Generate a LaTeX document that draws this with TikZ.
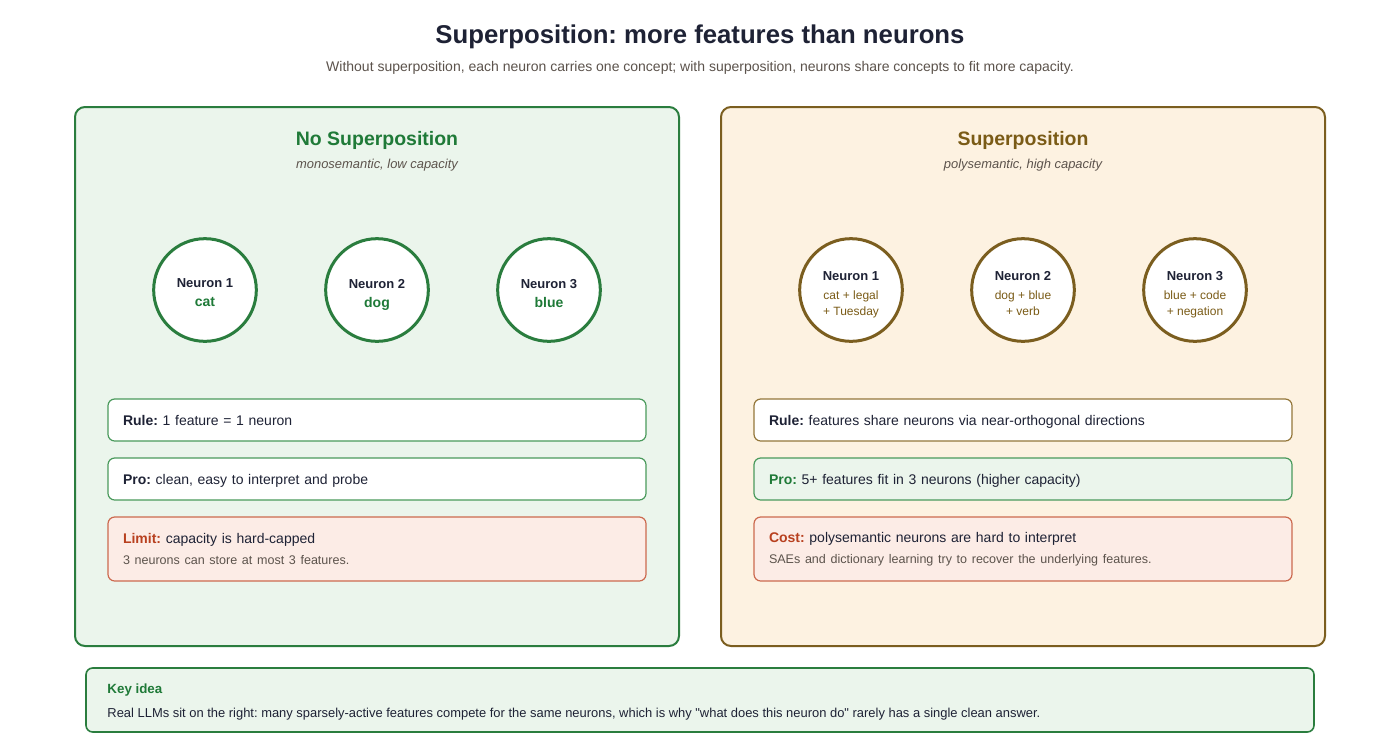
\documentclass[tikz,border=0pt]{standalone}
\usepackage{fontspec}
\setmainfont{Liberation Sans}[Ligatures=TeXOff]
\frenchspacing

\definecolor{ink}{HTML}{1E2235}
\definecolor{subgray}{HTML}{5C534C}
\definecolor{grn}{HTML}{1F7A38}
\definecolor{grnline}{HTML}{2A7D3E}
\definecolor{grnsoft}{HTML}{4A9A5C}
\definecolor{grnfill}{HTML}{EBF5EC}
\definecolor{brn}{HTML}{7A5B16}
\definecolor{brnline}{HTML}{7B5E1F}
\definecolor{brnsoft}{HTML}{94773A}
\definecolor{brnfill}{HTML}{FDF2E1}
\definecolor{redl}{HTML}{B8401F}
\definecolor{redline}{HTML}{CC6A4F}
\definecolor{redfill}{HTML}{FCECE6}

\tikzset{
  panel/.style={draw=#1, line width=1.5pt, rounded corners=7.5pt,
    minimum width=453pt, minimum height=404.25pt},
  neuron/.style={circle, draw=#1, line width=2.25pt, fill=white,
    minimum size=77pt, inner sep=0pt},
  infobox/.style={draw=#1, line width=0.9pt, rounded corners=5pt,
    minimum width=403.5pt, minimum height=31.5pt, text width=381pt,
    inner xsep=11.25pt, align=left, text=ink,
    font=\fontsize{10.5}{13}\selectfont},
  oneline/.style={text height=8.5pt, text depth=0pt},
  subtext/.style={text=subgray, font=\fontsize{9.7}{12}\selectfont},
}

\begin{document}
\begin{tikzpicture}[x=0.75pt,y=-0.75pt]

\def \gap {172} % distance between neurons, px
\def \rowy {290}

\useasboundingbox (0,0) rectangle (1400,754);
\fill[white] (0,0) rectangle (1400,754);

% heading
\node[text=ink, font=\bfseries\fontsize{19.3}{23}\selectfont] (title) at (700,37)
  {Superposition: more features than neurons};
\node[subtext, font=\fontsize{10.5}{12}\selectfont] (subtitle) at (700,67.5)
  {Without superposition, each neuron carries one concept; with superposition, neurons share concepts to fit more capacity.};

% the two panels
\node[panel=grnline, fill=grnfill] (nosup) at (377,376.5) {};
\node[panel=brnline, fill=brnfill] (sup) at (1023,376.5) {};

\node[text=grn, font=\bfseries\fontsize{14.6}{17}\selectfont] (nosuptitle) at (377,140) {No Superposition};
\node[subtext, font=\itshape\fontsize{9.7}{12}\selectfont] at (377,165) {monosemantic, low capacity};
\node[text=brn, font=\bfseries\fontsize{14.6}{17}\selectfont] (suptitle) at (1023,140) {Superposition};
\node[subtext, font=\itshape\fontsize{9.7}{12}\selectfont] at (1023,165) {polysemantic, high capacity};

% neurons
\foreach \i/\w in {1/cat,2/dog,3/blue}
{
	\node[neuron=grnline] (mono\i) at ({205+\gap*(\i-1)},\rowy) {};
	\node[align=center, text=ink, text depth=0pt, font=\bfseries\fontsize{9.75}{14.25}\selectfont]
	  at ([yshift=-2.25pt]mono\i.center) {Neuron \i\\{\color{grn}\fontsize{10.5}{14.25}\selectfont \w}};
}
\foreach \i/\a/\b in {1/cat + legal/+ Tuesday,2/dog + blue/+ verb,3/blue + code/+ negation}
{
	\node[neuron=brnline] (poly\i) at ({851+\gap*(\i-1)},\rowy) {};
	\node[align=center, text=brn, text depth=2.2pt, font=\fontsize{9}{12}\selectfont]
	  at ([yshift=-3.4pt]poly\i.center) {{\color{ink}\bfseries\fontsize{9.75}{12}\selectfont Neuron \i}\\[2.25pt]\a\\\b};
}

% left boxes
\node[infobox=grnsoft, oneline, fill=white] (rulel) at (377,420) {\textbf{Rule:} 1 feature = 1 neuron};
\node[infobox=grnsoft, oneline, fill=white] (prol) at (377,479) {\textbf{Pro:} clean, easy to interpret and probe};
\node[infobox=redline, fill=redfill, minimum height=48pt] (limitl) at (377,549)
  {{\color{redl}\bfseries Limit:} capacity is hard-capped\\[2.5pt]{\color{subgray}\fontsize{9.4}{12}\selectfont 3 neurons can store at most 3 features.}};

% right boxes
\node[infobox=brnsoft, oneline, fill=white] (ruler) at (1023,420) {\textbf{Rule:} features share neurons via near-orthogonal directions};
\node[infobox=grnsoft, oneline, fill=grnfill] (pror) at (1023,479) {{\color{grn}\bfseries Pro:} 5+ features fit in 3 neurons (higher capacity)};
\node[infobox=redline, fill=redfill, minimum height=48pt] (costr) at (1023,549)
  {{\color{redl}\bfseries Cost:} polysemantic neurons are hard to interpret\\[2.5pt]{\color{subgray}\fontsize{9.4}{12}\selectfont SAEs and dictionary learning try to recover the underlying features.}};

% key idea
\node[draw=grnline, line width=1.2pt, fill=grnfill, rounded corners=5pt,
  minimum width=921pt, minimum height=48pt] (keyidea) at (700,700) {};
\node[anchor=north west, inner sep=0pt, align=left, text=ink, font=\fontsize{9.7}{13}\selectfont]
  at ([xshift=16.5pt,yshift=-12.5pt]keyidea.north west)
  {{\color{grn}\bfseries\fontsize{10}{13}\selectfont Key idea}\\[5pt]Real LLMs sit on the right: many sparsely-active features compete for the same neurons, which is why "what does this neuron do" rarely has a single clean answer.};

\end{tikzpicture}
\end{document}
